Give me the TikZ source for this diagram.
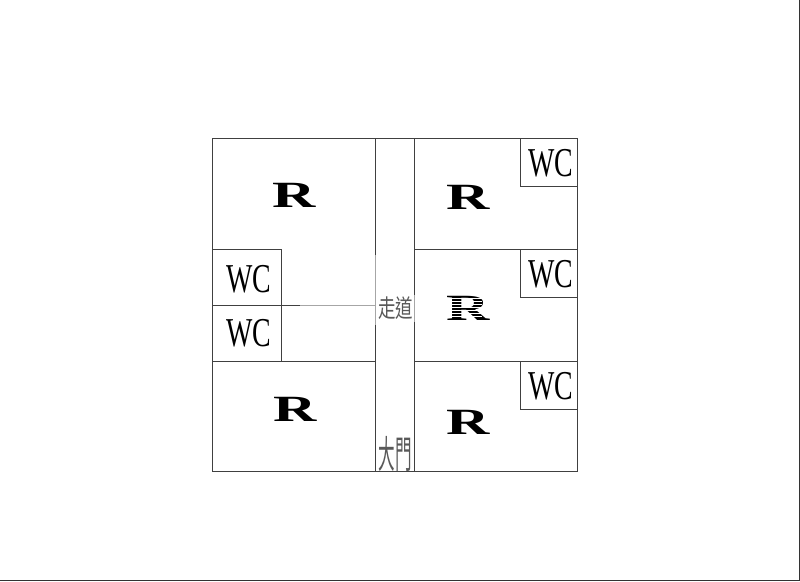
\documentclass[tikz,border=0pt]{standalone}
\usepackage{fontspec}
\setmainfont{Liberation Serif}
\newfontfamily\cjk{Noto Sans CJK TC}
\tikzset{
  wall/.style={draw=black!75,line width=1pt},
  lightwall/.style={draw=black!35,line width=1pt},
  room/.style={font=\fontsize{37}{37}\selectfont\bfseries,inner sep=0pt,xscale=1.62},
  wc/.style={font=\fontsize{41}{41}\selectfont,inner sep=0pt,xscale=.68},
  cn/.style={font=\cjk\fontsize{19}{19}\selectfont,inner sep=0pt,text=black!65,xscale=.92,yscale=1.3},
  cntall/.style={cn,xscale=.95,yscale=1.55},
  stripe/.style={draw=white,line width=.8pt}
}
\begin{document}
\begin{tikzpicture}[x=1pt,y=-1pt]
\useasboundingbox (0,0) rectangle (800,581);
\fill[white] (0,0) rectangle (800,581);
% page edge
\draw[black!80,line width=1pt] (0,580.5) -- (799.5,580.5) -- (799.5,0);
% outer
\draw[wall] (212.5,138.5) rectangle (577.5,471.5);
% corridor
\draw[wall] (375.5,138.5) -- (375.5,255) (375.5,325) -- (375.5,471.5);
\draw[lightwall] (375.5,255) -- (375.5,325);
\draw[wall] (414.5,138.5) -- (414.5,295) (414.5,322) -- (414.5,471.5);
\draw[lightwall] (414.5,295) -- (414.5,322);
% right dividers
\draw[wall] (414.5,249.5) -- (577.5,249.5);
\draw[wall] (414.5,361.5) -- (577.5,361.5);
% right WCs
\draw[wall] (520.5,138.5) rectangle (577.5,186.5);
\draw[wall] (520.5,249.5) rectangle (577.5,297.5);
\draw[wall] (520.5,361.5) rectangle (577.5,409.5);
% left WCs
\draw[wall] (212.5,249.5) rectangle (281.5,361.5);
\draw[wall] (212.5,305.5) -- (300,305.5);
\draw[lightwall] (300,305.5) -- (375.5,305.5);
\draw[wall] (212.5,361.5) -- (375.5,361.5);
% labels
\node[room] (r1) at (294,195.5) {R};
\node[room] (r2) at (295,409.5) {R};
\node[room] (r3) at (468.5,197.5) {R};
\node[room] (r4) at (468,308.5) {R};
\node[room] (r5) at (468.5,422.5) {R};
\foreach \yy in {298,301,304,307,310,313,316}{\draw[stripe] (448,\yy) -- (482,\yy);}
\node[wc] (w1) at (249,279.5) {WC};
\node[wc] (w2) at (249,333.5) {WC};
\node[wc] (w3) at (551,163.5) {WC};
\node[wc] (w4) at (551,274.5) {WC};
\node[wc] (w5) at (551,386.5) {WC};
\node[cn] (walk) at (395.5,308) {走道};
\node[cntall] (door) at (395,454) {大門};
\end{tikzpicture}
\end{document}
